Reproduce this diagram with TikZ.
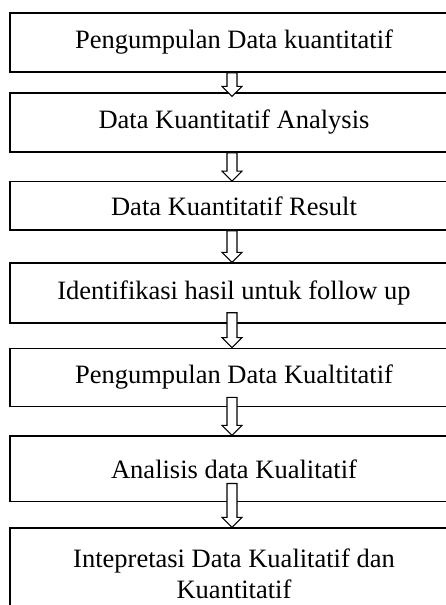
\documentclass[tikz,border=0pt]{standalone}
\usepackage{fontspec}
\setmainfont{Liberation Serif}
\usetikzlibrary{calc}
\tikzset{
  box/.style={draw=black, line width=1.4pt, fill=white, minimum width=448pt, inner sep=0pt, align=center, font=\fontsize{26.5}{30.5}\selectfont},
  blockarr/.style={draw=black, line width=1.1pt, fill=white, line join=miter}
}
\newcommand\barrow[4]{%
  \draw[blockarr] let \p1=(#1.south), \p2=(#2.north) in
    (227pt,\y1+#3) -- (237pt,\y1+#3) -- (237pt,\y2-#4+10pt) -- (242pt,\y2-#4+10pt)
    -- (232pt,\y2-#4) -- (222pt,\y2-#4+10pt) -- (227pt,\y2-#4+10pt) -- cycle;}
\begin{document}
\begin{tikzpicture}[x=1pt,y=-1pt]
\useasboundingbox (0,0) rectangle (446,605);
\clip (0,0) rectangle (446,605);
\node[box, minimum height=59pt] (b1) at (234,42.5) {Pengumpulan Data kuantitatif};
\node[box, minimum height=59pt] (b2) at (234,122.5) {Data Kuantitatif Analysis};
\node[box, minimum height=48.3pt] (b3) at (234,205.9) {Data Kuantitatif Result};
\node[box, minimum height=60pt] (b4) at (234,293) {Identifikasi hasil untuk follow up};
\node[box, minimum height=58.4pt] (b5) at (234,377.5) {Pengumpulan Data Kualtitatif};
\node[box, minimum height=65.7pt] (b6) at (234,468.9) {Analisis data Kualitatif};
\node[box, minimum height=92pt] (b7) at (234,574) {Intepretasi Data Kualitatif dan\\Kuantitatif};
\barrow{b1}{b2}{0pt}{4pt}
\barrow{b2}{b3}{0pt}{0pt}
\barrow{b3}{b4}{0pt}{0pt}
\barrow{b4}{b5}{11pt}{0pt}
\barrow{b5}{b6}{10pt}{0pt}
\barrow{b6}{b7}{19pt}{0pt}
\end{tikzpicture}
\end{document}
